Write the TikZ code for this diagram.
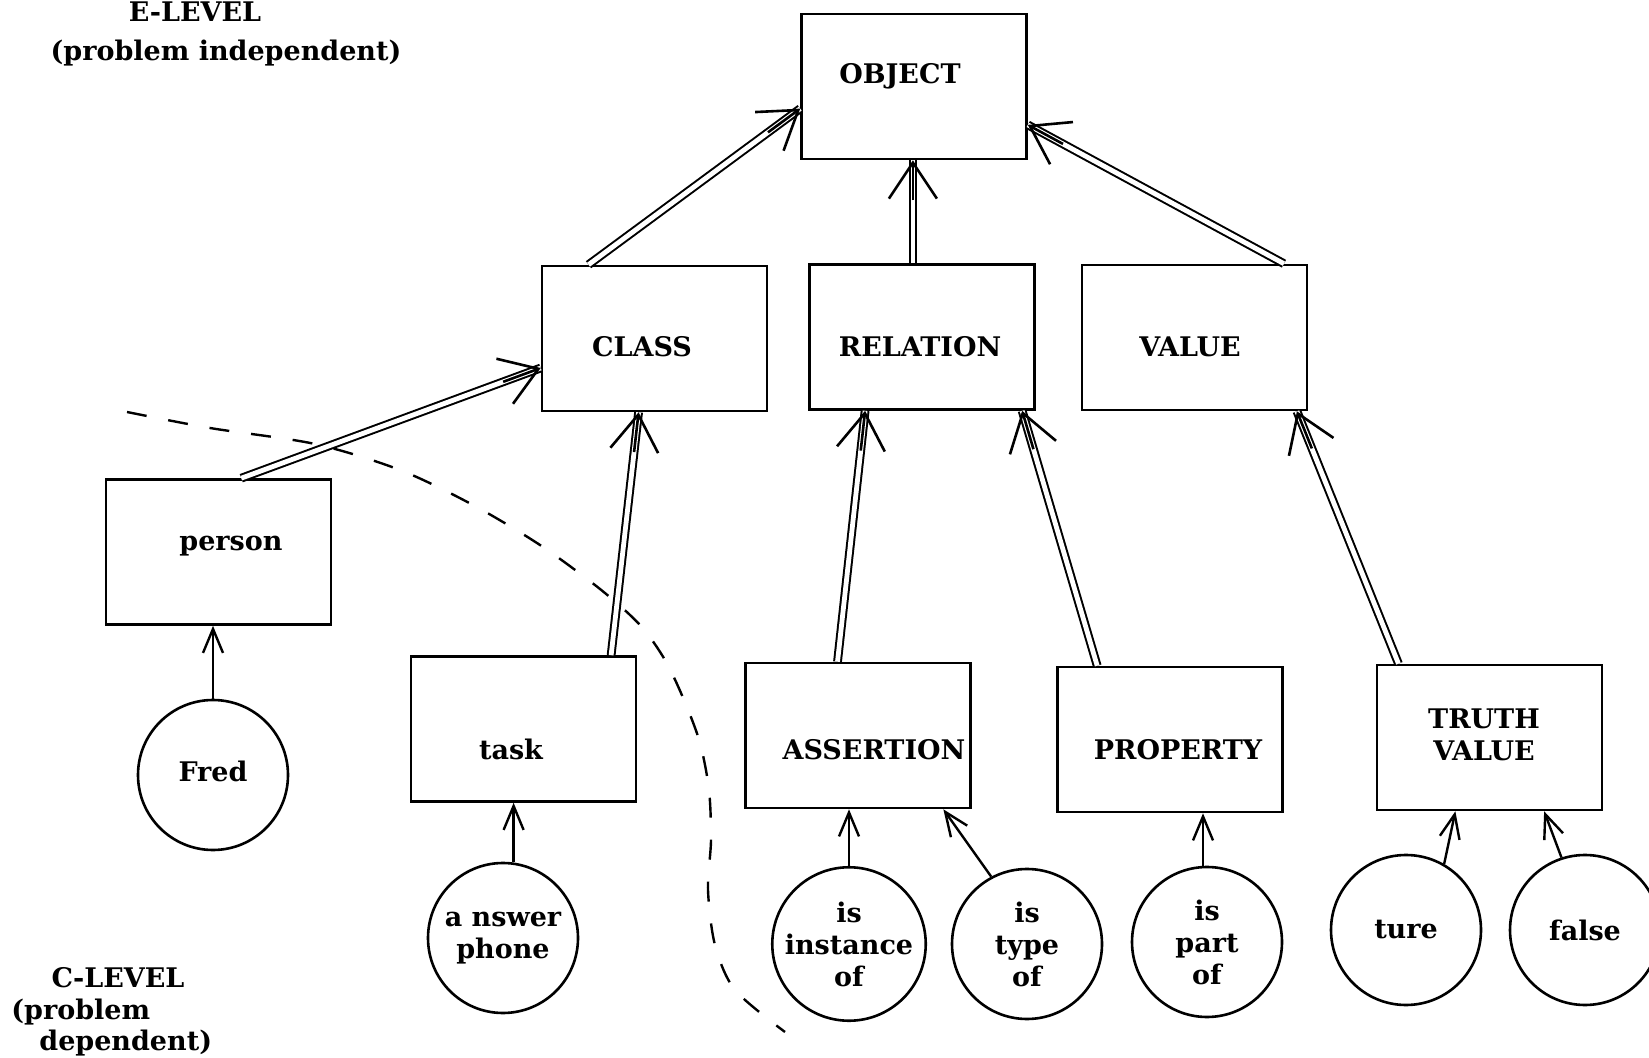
\documentclass[tikz,border=0pt]{standalone}
\usepackage{fontspec}
\setmainfont{DejaVu Serif}
\usetikzlibrary{arrows.meta,calc}
\newcommand\dblarrow[2]{\draw[dblline] (#1) -- (#2); \draw[bigtip] ($(#2)!20pt!(#1)$) -- (#2);}
\begin{document}
\begin{tikzpicture}[x=0.5pt,y=-0.5pt,
  every node/.style={font=\fontsize{13.5}{16}\selectfont\bfseries},
  box/.style={draw, line width=1.3pt, minimum width=112.5pt, minimum height=72.5pt, inner sep=0pt},
  circ/.style={draw, circle, line width=1.3pt, minimum size=75pt, inner sep=0pt, align=center},
  txt/.style={inner sep=0pt, anchor=base},
  dblline/.style={double, double distance=2.4pt, line width=1pt},
  bigtip/.style={line width=1.3pt, -{Straight Barb[length=18pt,width=24pt]}},
  smalltip/.style={line width=1.2pt, -{Straight Barb[length=12pt,width=10pt]}},
  bound/.style={dash pattern=on 10pt off 11pt, line width=1.2pt}
]
\useasboundingbox (0,0) rectangle (1649,1058);
\clip (0,0) rectangle (1649,1058);

% boxes
\node[box] (object) at (914,86.5) {};
\node[box] (class) at (654.5,338.5) {};
\node[box] (relation) at (922,337) {};
\node[box] (value) at (1194.5,337.5) {};
\node[box] (person) at (218.5,552) {};
\node[box] (task) at (523.5,729) {};
\node[box] (assertion) at (858,735.5) {};
\node[box] (property) at (1170,739.5) {};
\node[box] (truth) at (1489.5,737.5) {};

% box texts
\node[txt] (objectT) at (900,83.5) {OBJECT};
\node[txt] (classT) at (642,356.5) {CLASS};
\node[txt] (relationT) at (920,356.5) {RELATION};
\node[txt] (valueT) at (1190,356.5) {VALUE};
\node[txt] (personT) at (231,551) {person};
\node[txt] (taskT) at (511,759) {task};
\node[txt] (assertionT) at (874,759) {ASSERTION};
\node[txt] (propertyT) at (1178,759) {PROPERTY};
\node[txt] (truthTa) at (1484,728) {TRUTH};
\node[txt] (truthTb) at (1484,760) {VALUE};

% circles
\node[circ] (fred) at (213,775) {\raisebox{4pt}{Fred}};
\node[circ] (answer) at (503,938) {a nswer\\phone};
\node[circ] (inst) at (849,944) {is\\instance\\of};
\node[circ] (type) at (1027,944) {is\\type\\of};
\node[circ] (part) at (1207,942) {is\\part\\of};
\node[circ] (ture) at (1406,930) {ture};
\node[circ] (false) at (1585,930) {false};

% level labels
\node[txt] (elevel) at (195,22) {E-LEVEL};
\node[txt] (eprob) at (226,61) {(problem independent)};
\node[txt] (clevel) at (118,987) {C-LEVEL};
\node[txt, anchor=base west] (cprob) at (11,1019) {(problem};
\node[txt, anchor=base west] (cdep) at (39,1050) {dependent)};

% double-line connectors
\coordinate (a1s) at ($(class.north west)!0.21!(class.north east)$);
\coordinate (a1e) at ($(object.north west)!0.65!(object.south west)$);
\coordinate (a2s) at ($(relation.north west)!0.46!(relation.north east)$);
\coordinate (a2e) at (a2s |- object.south);
\coordinate (a3s) at ($(value.north west)!0.893!(value.north east)$);
\coordinate (a3e) at ($(object.north east)!0.76!(object.south east)$);
\coordinate (a4s) at ($(person.north west)!0.60!(person.north east)$);
\coordinate (a4e) at ($(class.north west)!0.70!(class.south west)$);
\coordinate (a5s) at ($(task.north west)!0.885!(task.north east)$);
\coordinate (a5e) at ($(class.south west)!0.43!(class.south east)$);
\coordinate (a6s) at ($(assertion.north west)!0.41!(assertion.north east)$);
\coordinate (a6e) at ($(relation.south west)!0.25!(relation.south east)$);
\coordinate (a7s) at ($(property.north west)!0.18!(property.north east)$);
\coordinate (a7e) at ($(relation.south west)!0.94!(relation.south east)$);
\coordinate (a8s) at ($(truth.north west)!0.10!(truth.north east)$);
\coordinate (a8e) at ($(value.south west)!0.95!(value.south east)$);
\dblarrow{a1s}{a1e}
\dblarrow{a2s}{a2e}
\dblarrow{a3s}{a3e}
\dblarrow{a4s}{a4e}
\dblarrow{a5s}{a5e}
\dblarrow{a6s}{a6e}
\dblarrow{a7s}{a7e}
\dblarrow{a8s}{a8e}

% single connectors
\draw[smalltip] (fred.north) -- (fred.north |- person.south);
\draw[smalltip] (answer.82) -- (answer.82 |- task.south);
\draw[smalltip] (inst.north) -- (inst.north |- assertion.south);
\draw[smalltip] (type.118) -- ($(assertion.south west)!0.875!(assertion.south east)$);
\draw[smalltip] (part.93) -- (part.93 |- property.south);
\draw[smalltip] (ture.60) -- ($(truth.south west)!0.35!(truth.south east)$);
\draw[smalltip] (false.108) -- ($(truth.south west)!0.74!(truth.south east)$);

% level boundary
\draw[bound] plot[smooth] coordinates {(127,412) (210,428) (315,444) (400,470) (473,505) (540,545) (600,589) (640,625) (665,660) (684,700) (700,743) (709,790) (711,840) (708,890) (715,945) (735,990) (785,1032)};
\end{tikzpicture}
\end{document}
